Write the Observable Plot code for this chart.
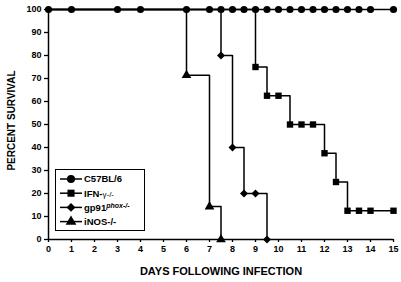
<!DOCTYPE html>
<html><head><meta charset="utf-8">
<script src="https://cdn.jsdelivr.net/npm/d3@7"></script>
<script src="https://cdn.jsdelivr.net/npm/@observablehq/plot@0.6"></script>
<style>
body{margin:0;background:#fff;}
svg{font-family:"Liberation Sans",Arial,sans-serif;}
</style></head>
<body><div id="chart"></div>
<script>
const xTicks = d3.range(0, 16);
const yTicks = d3.range(0, 101, 10);

const seriesNames = ["C57BL/6", "IFN-γ-/-", "gp91phox-/-", "iNOS-/-"];
const seriesSymbols = ["circle", "square", "diamond2", "triangle"];

const daysC57 = [0, 1, 3, 4, 6, 7, 7.5, 8, 8.5, 9, 9.5, 10, 10.5, 11, 11.5, 12, 12.5, 13, 13.5, 14, 15];
const survC57 = [100, 100, 100, 100, 100, 100, 100, 100, 100, 100, 100, 100, 100, 100, 100, 100, 100, 100, 100, 100, 100];
const daysIFN = [0, 9, 9.5, 10, 10.5, 11, 11.5, 12, 12.5, 13, 13.5, 14, 15];
const survIFN = [100, 75, 62.5, 62.5, 50, 50, 50, 37.5, 25, 12.5, 12.5, 12.5, 12.5];
const daysGp91 = [0, 7.5, 8, 8.5, 9, 9.5];
const survGp91 = [100, 80, 40, 20, 20, 0];
const daysINOS = [0, 6, 7, 7.5];
const survINOS = [100, 71.4, 14.3, 0];

const rows = [];
[[daysC57, survC57], [daysIFN, survIFN], [daysGp91, survGp91], [daysINOS, survINOS]].forEach(([d, s], i) => {
  d.forEach((x, j) => rows.push({series: seriesNames[i], symbol: seriesSymbols[i], day: x, surv: s[j], k: i}));
});
const markerRows = rows.filter(r => r.k === 0 || r.surv < 100);

const font = {fontSize: 9, fontWeight: "bold"};
const plot = Plot.plot({
  width: 401, height: 282,
  marginLeft: 48, marginRight: 8, marginTop: 9, marginBottom: 43,
  x: {domain: [0, 15]},
  y: {domain: [0, 100]},
  style: {fontFamily: "'Liberation Sans', Arial, sans-serif", color: "#000", background: "#fff"},
  marks: [
    Plot.axisX({ticks: xTicks, tickSize: 3, tickPadding: 3, label: null, strokeWidth: 1.3, ...font}),
    Plot.axisY({ticks: yTicks, tickSize: 4, tickPadding: 3, label: null, strokeWidth: 1.3, ...font}),
    Plot.ruleY([0], {stroke: "#000", strokeWidth: 1.5}),
    Plot.ruleX([0], {stroke: "#000", strokeWidth: 1.5}),
    Plot.line(rows, {x: "day", y: "surv", z: "series", curve: "step-after", stroke: "#000", strokeWidth: 1.5}),
    Plot.dot(markerRows.filter(r => r.k !== 0), {x: "day", y: "surv", symbol: "symbol", fill: "#000", r: 3.6}),
    Plot.dot(markerRows.filter(r => r.k === 0), {x: "day", y: "surv", symbol: "symbol", fill: "#000", r: 3.6}),
    Plot.text(["DAYS FOLLOWING INFECTION"], {frameAnchor: "bottom", dy: 35, fontSize: 11, fontWeight: "bold"}),
    Plot.text(["PERCENT SURVIVAL"], {frameAnchor: "left", textAnchor: "middle", dx: -37, dy: -4, rotate: -90, fontSize: 10, fontWeight: "bold"})
  ],
  symbol: {type: "identity"}
});
document.getElementById("chart").appendChild(plot);

// legend
const svg = d3.select(plot);
const lg = svg.append("g").attr("text-anchor", "start");
lg.append("rect").attr("x", 55.5).attr("y", 169.5).attr("width", 89).attr("height", 61)
  .attr("fill", "#fff").attr("stroke", "#000").attr("stroke-width", 1);
seriesNames.forEach((name, i) => {
  const y = 179 + i * 14.2;
  lg.append("line").attr("x1", 60).attr("x2", 82).attr("y1", y).attr("y2", y).attr("stroke", "#000").attr("stroke-width", 1.5);
  const sym = {circle: d3.symbolCircle, square: d3.symbolSquare, diamond2: d3.symbolDiamond2, triangle: d3.symbolTriangle}[seriesSymbols[i]];
  lg.append("path").attr("d", d3.symbol(sym, Math.PI * 4 * 4)()).attr("transform", `translate(71,${y})`).attr("fill", "#000");
  const t = lg.append("text").attr("x", 84).attr("y", y).attr("dy", "0.35em")
    .attr("font-size", 9.5).attr("font-weight", "bold").attr("fill", "#000");
  if (i === 2) {
    t.append("tspan").text("gp91");
    t.append("tspan").attr("font-size", 7).attr("font-style", "italic").attr("dy", "-0.45em").text("phox-/-");
  } else if (i === 1) {
    t.append("tspan").text("IFN-");
    t.append("tspan").attr("font-weight", "normal").attr("font-size", 8).text("γ-/-");
  } else {
    t.text(name);
  }
});
</script></body></html>
